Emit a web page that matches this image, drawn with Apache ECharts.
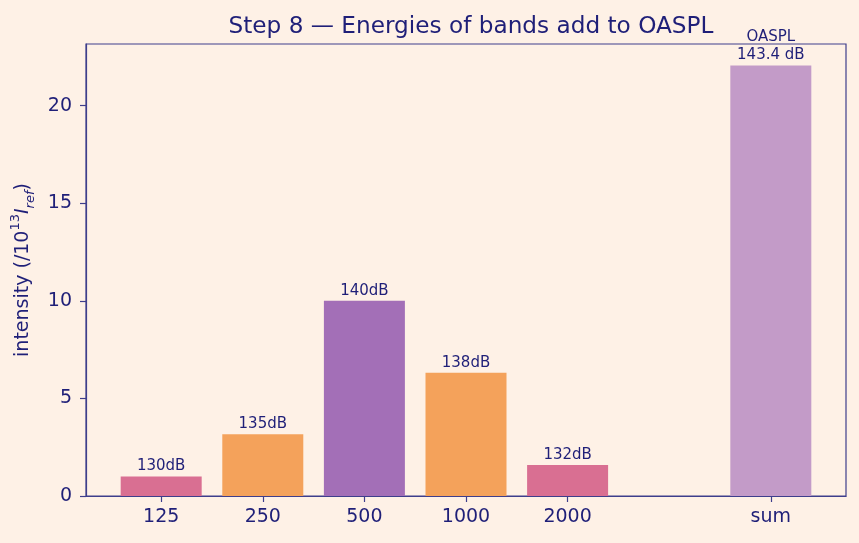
<!DOCTYPE html>
<html>
<head>
<meta charset="utf-8">
<script src="https://cdn.jsdelivr.net/npm/echarts@6/dist/echarts.min.js"></script>
<style>
  html, body { margin: 0; padding: 0; background: #fef1e6; }
  #chart { width: 859px; height: 543px; }
</style>
</head>
<body>
<div id="chart"></div>
<script>
// band centre frequencies, the sum bar sits one slot further right
var bandLabels = ['125', '250', '500', '1000', '2000', 'sum']
var bandPos = [0, 1, 2, 3, 4, 6]
var intensity = [1.0, 3.162, 10.0, 6.310, 1.585, 22.057]
var barLabels = ['130dB', '135dB', '140dB', '138dB', '132dB', 'OASPL\n143.4 dB']
var barColors = ['#d96f92', '#f4a25b', '#a36fb7', '#f4a25b', '#d96f92', '#c39bc8']

var ink = '#1f1f78'
var axisInk = '#3e3e8c'

var chart = echarts.init(document.getElementById('chart'))

var data = bandPos.map(function (p, i) {
  return {
    value: [p, intensity[i]],
    itemStyle: { color: barColors[i] },
    label: { formatter: barLabels[i], lineHeight: i === 5 ? 17.5 : 16 }
  }
})

var option = {
  backgroundColor: '#fef1e6',
  animation: false,
  textStyle: { fontFamily: 'DejaVu Sans' },
  title: {
    text: 'Step 8 \u2014 Energies of bands add to OASPL',
    left: 466,
    top: 10,
    textAlign: 'center',
    textStyle: { color: ink, fontSize: 23.2, fontWeight: 'normal', fontFamily: 'DejaVu Sans' }
  },
  grid: {
    left: 86, right: 13, top: 44, bottom: 47,
    show: true,
    borderColor: axisInk,
    borderWidth: 1.2,
    backgroundColor: 'transparent'
  },
  xAxis: {
    type: 'value',
    min: -0.74,
    max: 6.74,
    splitLine: { show: false },
    axisLine: { show: true, onZero: false, lineStyle: { color: axisInk, width: 1.2 } },
    axisTick: { show: true, length: 6, customValues: bandPos, lineStyle: { color: axisInk, width: 1.2 } },
    axisLabel: {
      customValues: bandPos,
      color: ink,
      fontSize: 19,
      margin: 12,
      formatter: function (v) {
        var i = bandPos.indexOf(Math.round(v))
        return i >= 0 ? bandLabels[i] : ''
      }
    }
  },
  yAxis: {
    type: 'value',
    min: 0,
    max: 23.16,
    interval: 5,
    splitLine: { show: false },
    axisLine: { show: true, onZero: false, lineStyle: { color: axisInk, width: 1.2 } },
    axisTick: { show: true, length: 6, lineStyle: { color: axisInk, width: 1.2 } },
    axisLabel: {
      color: ink,
      fontSize: 19,
      margin: 14,
      showMaxLabel: false,
      formatter: function (v) { return v > 23 ? '' : v }
    },
    name: '{a|intensity (/10}{sup|13}{i|I}{sub|ref}{a|)}',
    nameLocation: 'middle',
    nameGap: 49,
    nameRotate: 90,
    nameTextStyle: {
      color: ink,
      rich: {
        a: { fontSize: 19, color: ink, lineHeight: 28, verticalAlign: 'middle' },
        sup: { fontSize: 13, color: ink, verticalAlign: 'top', lineHeight: 28 },
        i: { fontSize: 19, color: ink, fontStyle: 'italic', lineHeight: 28, verticalAlign: 'middle' },
        sub: { fontSize: 13, color: ink, fontStyle: 'italic', verticalAlign: 'bottom', lineHeight: 28 }
      }
    }
  },
  series: [{
    type: 'bar',
    barWidth: 81,
    data: data,
    label: {
      show: true,
      position: 'top',
      distance: 2,
      color: ink,
      fontSize: 15,
      fontFamily: 'DejaVu Sans'
    }
  }]
}

chart.setOption(option)
</script>
</body>
</html>
